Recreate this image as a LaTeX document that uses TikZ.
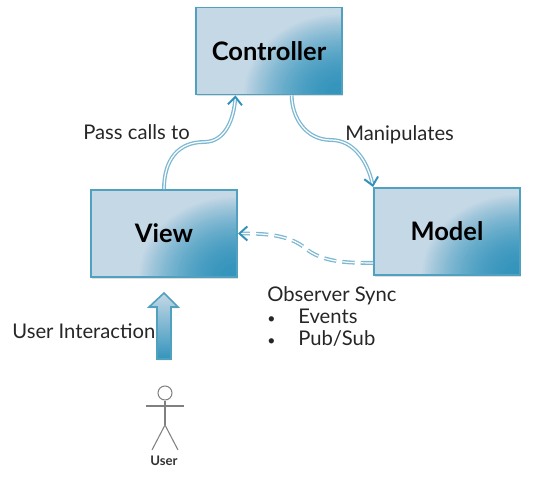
\documentclass[tikz,border=0pt]{standalone}
\usepackage{fontspec}
\setmainfont{Lato}
\usetikzlibrary{arrows.meta,shadows,calc}
\definecolor{boxLight}{RGB}{197,216,230}
\definecolor{boxDark}{RGB}{52,148,188}
\definecolor{boxEdge}{RGB}{80,160,192}
\definecolor{flowBlue}{RGB}{125,184,210}
\definecolor{tipBlue}{RGB}{50,145,185}

\begin{document}
\begin{tikzpicture}[
  x=0.2mm,y=-0.2mm,
  block/.style={rectangle,draw=boxEdge,line width=1.1pt,fill=boxLight,
                minimum width=2.92cm,minimum height=1.74cm,align=center,
                font=\fontsize{14.5}{16}\selectfont\bfseries,
                drop shadow={shadow xshift=0.4pt,shadow yshift=-1pt,opacity=.25},
                path picture={\foreach \k [evaluate=\k as \mixval using 100*(1-(\k/40)^2)] in {40,39,...,1}
                  \fill[boxDark!\mixval!boxLight] (path picture bounding box.south east)
                    circle [x radius=\k*0.05cm,y radius=\k*0.041cm];}},
  flow/.style={draw=flowBlue,double=white,double distance=0.7pt,line width=0.75pt,
               -{Straight Barb[color=tipBlue,length=4.5pt,width=8pt,line width=1.1pt]}},
  obs/.style={flow,dash pattern=on 7pt off 3.5pt},
  note/.style={font=\fontsize{11.5}{12.5}\selectfont,text=black!85,inner sep=0pt},
  stick/.style={draw=black!50,line width=0.6pt}
]
  \useasboundingbox (0,0) rectangle (542,480);
  \node[block] (controller) at (269,51)    {Controller};
  \node[block] (view)       at (164,233.5) {View};
  \node[block] (model)      at (447,231.5) {Model};
  \coordinate (passBend)  at (204,142);
  \coordinate (manipBend) at (331,140);
  \coordinate (syncBend)  at (305,248);
  \draw[flow] (view.north) .. controls (164,160) and (178,142) .. (passBend)
     .. controls (226,142) and (234,118) .. (controller.233);
  \draw[flow] (controller.-63) .. controls (292,118) and (306,140) .. (manipBend)
     .. controls (354,140) and (368,162) .. (model.north west);
  \draw[obs]  (model.203.3) .. controls (345,263) and (322,262) .. (syncBend)
     .. controls (288,234) and (262,233.5) .. (view.east);
  \node[note,anchor=west] (pass)  at (83,132)  {Pass calls to};
  \node[note,anchor=west] (manip) at (345,135) {Manipulates};
  \node[note,anchor=west] (inter) at (12,331)  {User Interaction};
  \node[note,anchor=north west,align=left] (sync) at (267,286)
    {Observer Sync\\\hbox to 0.62cm{\footnotesize\textbullet\hfil}Events\\\hbox to 0.62cm{\footnotesize\textbullet\hfil}Pub/Sub};
  \draw[draw=boxEdge,line width=0.9pt,top color=boxLight,middle color=boxLight,bottom color=boxDark,
        drop shadow={shadow xshift=0.4pt,shadow yshift=-0.8pt,opacity=.25}]
    (157,359) -- (157,307) -- (149,307) -- (164,293) -- (178,307) -- (171,307) -- (171,359) -- cycle;
  \node[circle,stick,minimum size=0.28cm,inner sep=0pt] (head) at (165,393) {};
  \coordinate (hip) at (165,425);
  \coordinate (armL) at (146,406);
  \coordinate (armR) at (184,406);
  \coordinate (footL) at (152,450);
  \coordinate (footR) at (178,450);
  \draw[stick] (head) -- (hip);
  \draw[stick] (armL) -- (armR);
  \draw[stick] (footL) -- (hip) -- (footR);
  \node[font=\fontsize{7.5}{9}\selectfont\bfseries,text=black!80,inner sep=0pt] (user) at (164,461) {User};
\end{tikzpicture}
\end{document}
